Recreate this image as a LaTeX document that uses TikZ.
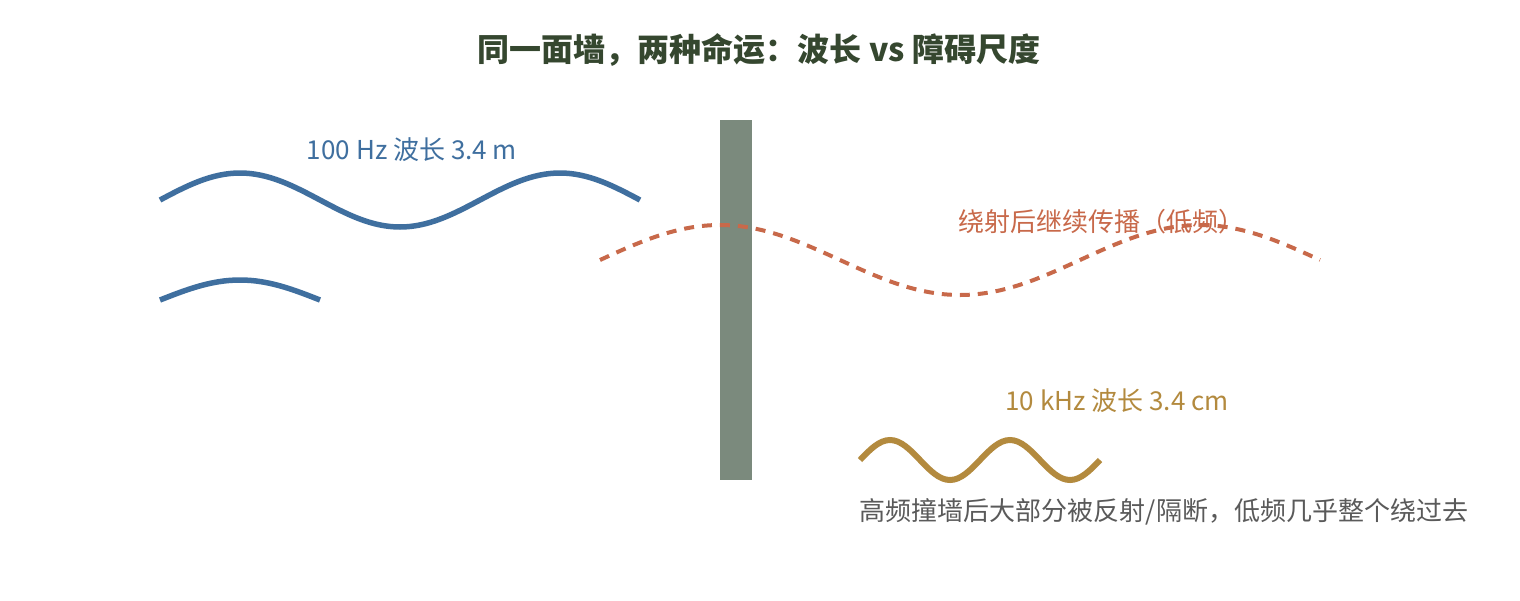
\documentclass[tikz,border=0pt]{standalone}
\usepackage{fontspec}
\setmainfont{Noto Sans CJK SC}
\newfontfamily\cjk{Noto Sans CJK SC}
\definecolor{titlec}{HTML}{35472F}
\definecolor{bluec}{HTML}{3F6F9F}
\definecolor{goldc}{HTML}{B38A3E}
\definecolor{orangec}{HTML}{C8694A}
\definecolor{wallc}{HTML}{7B8A7D}
\definecolor{greyc}{HTML}{5A5A5A}
\tikzset{
  lbl/.style={inner sep=0pt, anchor=center, font=\cjk\fontsize{26}{30}\selectfont},
  wavebl/.style={draw=bluec, line width=5.5pt},
  wavegd/.style={draw=goldc, line width=6pt},
  wavedash/.style={draw=orangec, line width=4pt, dash pattern=on 10pt off 8pt},
}
\begin{document}
\begin{tikzpicture}[x=1pt,y=-1pt]
\useasboundingbox[fill=white] (0,0) rectangle (1520,600);
% title
\node[inner sep=0pt, text=titlec, font=\cjk\bfseries\fontsize{32}{36}\selectfont] (title) at (759,50) {同一面墙，两种命运：波长 vs 障碍尺度};
% blue low-frequency wave
\draw[wavebl] (160,200) sin (240,173) cos (320,200) sin (400,227) cos (480,200) sin (560,173) cos (640,200);
\draw[wavebl] (160,300) sin (240,280) cos (320,300);
\node[lbl, text=bluec] (lowlbl) at (412,150) {100 Hz 波长 3.4 m};
% wall
\node[fill=wallc, minimum width=32pt, minimum height=360pt, inner sep=0pt, draw=none] (wall) at (736,300) {};
% diffracted dashed wave
\draw[wavedash] (600,260) sin (720,225) cos (840,260) sin (960,295) cos (1080,260) sin (1200,225) cos (1320,260);
\node[lbl, text=orangec] (difflbl) at (1101,222) {绕射后继续传播（低频）};
% gold high-frequency wave
\draw[wavegd] (860,460) sin (890,440) cos (920,460) sin (950,480) cos (980,460) sin (1010,440) cos (1040,460) sin (1070,480) cos (1100,460);
\node[lbl, text=goldc] (highlbl) at (1117,401) {10 kHz 波长 3.4 cm};
\node[lbl, text=greyc] (note) at (1164,512) {高频撞墙后大部分被反射/隔断，低频几乎整个绕过去};
\end{tikzpicture}
\end{document}
